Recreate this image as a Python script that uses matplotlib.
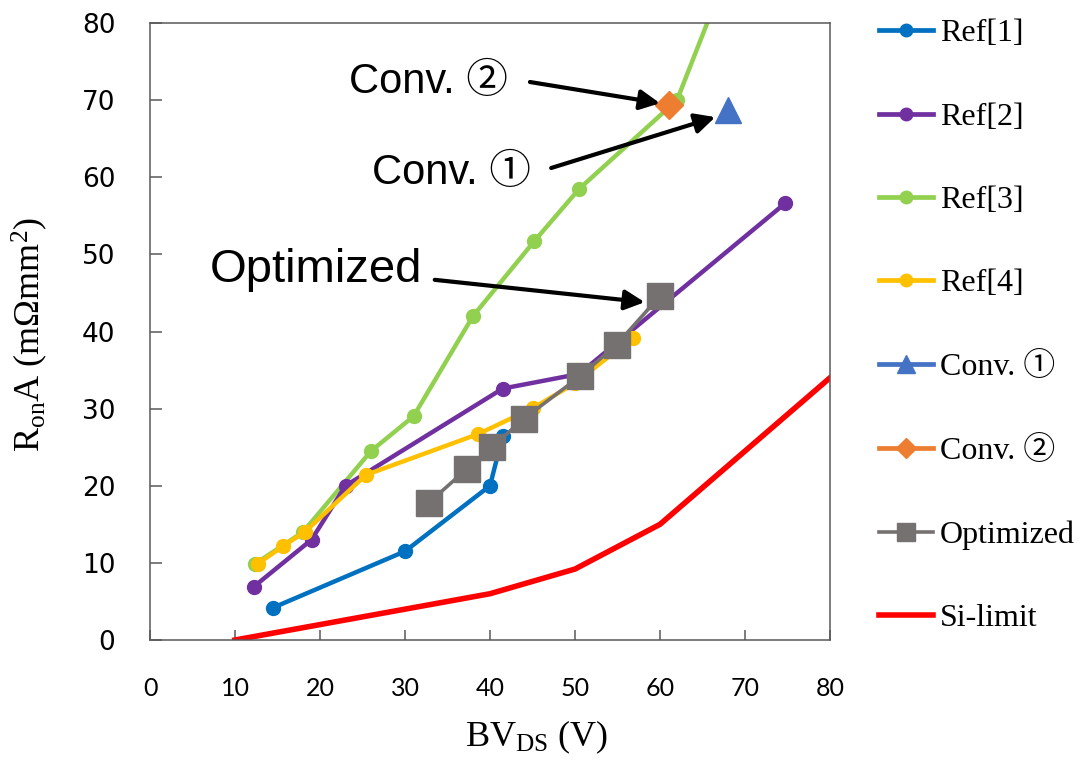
import matplotlib
matplotlib.use("Agg")
import matplotlib.pyplot as plt
from matplotlib.lines import Line2D

# ---------------------------------------------------------------------------
# Specific on-resistance vs. breakdown voltage
# ---------------------------------------------------------------------------
ref1_x = [14.5, 30.0, 40.0, 41.5]
ref1_y = [4.2, 11.5, 20.0, 26.5]

ref2_x = [12.2, 19.0, 23.0, 41.5, 50.5, 74.7]
ref2_y = [6.9, 13.0, 20.0, 32.6, 34.5, 56.6]

ref3_x = [12.4, 18.0, 26.0, 31.0, 38.0, 45.2, 50.5, 62.0, 70.0]
ref3_y = [9.9, 14.0, 24.5, 29.0, 42.0, 51.7, 58.5, 70.0, 92.5]

ref4_x = [12.7, 15.7, 18.2, 25.4, 38.6, 45.1, 50.0, 56.8]
ref4_y = [9.9, 12.2, 14.0, 21.4, 26.7, 30.1, 33.3, 39.2]

conv1_x = [68.0]
conv1_y = [68.7]

conv2_x = [61.1]
conv2_y = [69.4]

opt_x = [32.8, 37.3, 40.2, 44.0, 50.6, 54.9, 60.0]
opt_y = [17.8, 22.2, 25.0, 28.7, 34.2, 38.3, 44.6]

si_x = [10, 20, 30, 40, 50, 60, 70, 80]
si_y = [0.0, 2.0, 4.0, 6.0, 9.2, 15.0, 24.5, 34.0]

x_ticks = [0, 10, 20, 30, 40, 50, 60, 70, 80]
y_ticks = [0, 10, 20, 30, 40, 50, 60, 70, 80]

labels = ["Ref[1]", "Ref[2]", "Ref[3]", "Ref[4]",
          "Conv. \u2460", "Conv. \u2461", "Optimized", "Si-limit"]

C_REF1 = "#0070C0"
C_REF2 = "#7030A0"
C_REF3 = "#92D050"
C_REF4 = "#FFC000"
C_CONV1 = "#4472C4"
C_CONV2 = "#ED7D31"
C_OPT = "#767171"
C_SI = "#FF0000"
C_AXIS = "#595959"

plt.rcParams["mathtext.fontset"] = "custom"
plt.rcParams["mathtext.rm"] = "Liberation Serif"
plt.rcParams["mathtext.it"] = "Liberation Serif:italic"

SERIF = ["Liberation Serif", "Noto Sans CJK JP", "DejaVu Sans"]
SANS = ["Liberation Sans", "Noto Sans CJK JP", "DejaVu Sans"]

fig = plt.figure(figsize=(10.8, 7.65), dpi=100)
ax = fig.add_axes([150 / 1080, 1 - 640 / 765, 680 / 1080, 617 / 765])

lw = 3.2
ms = 10
ax.plot(ref3_x, ref3_y, color=C_REF3, lw=lw, marker="o", ms=ms, zorder=2.0)
ax.plot(ref1_x, ref1_y, color=C_REF1, lw=lw, marker="o", ms=ms, zorder=2.1)
ax.plot(ref2_x, ref2_y, color=C_REF2, lw=lw, marker="o", ms=ms, zorder=2.2)
ax.plot(ref4_x, ref4_y, color=C_REF4, lw=lw, marker="o", ms=ms, zorder=2.3)
ax.plot(si_x, si_y, color=C_SI, lw=4, zorder=2.4)
ax.plot(conv1_x, conv1_y, ls="none", color=C_CONV1, marker="^", ms=19, zorder=3)
ax.plot(conv2_x, conv2_y, ls="none", color=C_CONV2, marker="D", ms=14, zorder=3)
ax.plot(opt_x, opt_y, color=C_OPT, lw=2.6, marker="s", ms=18.5, zorder=3.1)

ax.set_xlim(0, 80)
ax.set_ylim(0, 80)
ax.set_xticks(x_ticks)
ax.set_yticks(y_ticks)
ax.set_xticklabels([str(t) for t in x_ticks], family="Lato", fontsize=18)
ax.set_yticklabels([str(t) for t in y_ticks], family="DejaVu Sans", fontsize=19)
ax.tick_params(axis="x", direction="in", length=7, width=1.1, color=C_AXIS, pad=27)
ax.tick_params(axis="y", direction="in", length=8.5, width=1.1, color=C_AXIS, pad=25)
for sp in ax.spines.values():
    sp.set_color(C_AXIS)
    sp.set_linewidth(1.1)

ax.set_xlabel(r"BV$_{\mathrm{DS}}$ (V)", family=SERIF, fontsize=26)
ax.set_ylabel("R$_{\\mathrm{on}}$A (m\u03a9mm$^{2}$)", family=SERIF, fontsize=26)
ax.xaxis.set_label_coords((537 - 150) / 680, -(737 - 640) / 617)
ax.yaxis.set_label_coords(-(150 - 30) / 680, (640 - 335) / 617)
ax.xaxis.label.set_va("center")
ax.yaxis.label.set_va("center")

# callouts
arrow = dict(arrowstyle="-|>", lw=3, color="black", mutation_scale=30,
             shrinkA=0, shrinkB=0)
ax.text(32.7, 72.35, "Conv. \u2461", family=SANS, fontsize=30,
        ha="center", va="center", zorder=5)
ax.annotate("", xy=(60.0, 69.6), xytext=(44.7, 72.35), arrowprops=arrow, zorder=5)
ax.text(35.5, 60.55, "Conv. \u2460", family=SANS, fontsize=30,
        ha="center", va="center", zorder=5)
ax.annotate("", xy=(66.5, 67.8), xytext=(47.2, 61.2), arrowprops=arrow, zorder=5)
ax.text(19.5, 48.0, "Optimized", family=SANS, fontsize=34,
        ha="center", va="center", zorder=5)
ax.annotate("", xy=(58.2, 43.8), xytext=(33.5, 46.7), arrowprops=arrow, zorder=5)

handles = [
    Line2D([], [], color=C_REF1, lw=3.4, marker="o", ms=9),
    Line2D([], [], color=C_REF2, lw=3.4, marker="o", ms=9),
    Line2D([], [], color=C_REF3, lw=3.4, marker="o", ms=9),
    Line2D([], [], color=C_REF4, lw=3.4, marker="o", ms=9),
    Line2D([], [], color=C_CONV1, lw=3.4, marker="^", ms=13),
    Line2D([], [], color=C_CONV2, lw=3.4, marker="D", ms=10),
    Line2D([], [], color=C_OPT, lw=2.6, marker="s", ms=13),
    Line2D([], [], color=C_SI, lw=4),
]
fig.legend(handles, labels, loc="upper left",
           bbox_to_anchor=(879 / 1080, 1 - 19 / 765),
           prop={"family": SERIF, "size": 23}, frameon=False,
           handlelength=1.7, handletextpad=0.2, labelspacing=1.69,
           borderpad=0, borderaxespad=0)

fig.savefig("out.png", dpi=100)
